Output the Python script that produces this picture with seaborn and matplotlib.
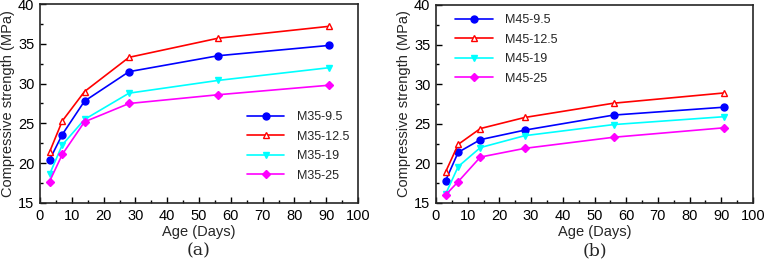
import matplotlib
matplotlib.use("Agg")
import matplotlib.pyplot as plt
import seaborn as sns
import pandas as pd
from matplotlib.ticker import MultipleLocator

ages = [3, 7, 14, 28, 56, 91]

labels_a = ["M35-9.5", "M35-12.5", "M35-19", "M35-25"]
m35_95 = [20.4, 23.6, 27.8, 31.5, 33.5, 34.8]
m35_125 = [21.4, 25.3, 29.0, 33.3, 35.7, 37.2]
m35_19 = [18.6, 22.3, 25.5, 28.8, 30.4, 32.0]
m35_25 = [17.7, 21.1, 25.2, 27.5, 28.6, 29.8]

labels_b = ["M45-9.5", "M45-12.5", "M45-19", "M45-25"]
m45_95 = [17.8, 21.4, 23.0, 24.2, 26.1, 27.1]
m45_125 = [18.9, 22.4, 24.4, 25.8, 27.6, 28.9]
m45_19 = [16.1, 19.6, 22.0, 23.5, 24.9, 25.9]
m45_25 = [16.0, 17.7, 20.8, 21.9, 23.3, 24.5]

sns.set_style("ticks")
plt.rcParams['font.family'] = ['Liberation Sans', 'DejaVu Sans']

colors = ["#0000ff", "#ff0000", "#00ffff", "#ff00ff"]
markers = ["o", "^", "v", "D"]
msizes = [5, 4.8, 5, 3.8]
fills = [True, False, True, True]

fig = plt.figure(figsize=(7.67, 2.70), dpi=100)
ax1 = fig.add_axes([40/767, 1-203/270, 318/767, 199/270])
ax2 = fig.add_axes([436/767, 1-203/270, 317/767, 198/270])

def draw(ax, labels, series, legend_kw, tag):
    for lab, vals, c, m, ms, f in zip(labels, series, colors, markers, msizes, fills):
        df = pd.DataFrame({"age": ages, "val": vals})
        sns.lineplot(data=df, x="age", y="val", ax=ax, color=c, marker=m,
                     markersize=ms, markeredgecolor=c,
                     markerfacecolor=c if f else "white",
                     markeredgewidth=1.0, linewidth=1.2, label=lab)
    ax.set_xlim(0, 100)
    ax.set_ylim(15, 40)
    ax.xaxis.set_major_locator(MultipleLocator(10))
    ax.xaxis.set_minor_locator(MultipleLocator(5))
    ax.yaxis.set_major_locator(MultipleLocator(5))
    ax.yaxis.set_minor_locator(MultipleLocator(2.5))
    ax.tick_params(which="both", direction="in", labelsize=10.5, width=1.0, colors="black")
    ax.tick_params(which="major", length=4, pad=4)
    ax.tick_params(which="minor", length=2.5)
    for s in ax.spines.values():
        s.set_linewidth(1.2)
        s.set_visible(True)
    ax.set_xlabel("Age (Days)", fontsize=10.5, labelpad=1.5)
    ax.set_ylabel("Compressive strength (MPa)", fontsize=10.5, labelpad=2)
    ax.legend(frameon=False, fontsize=9, handlelength=3.0, labelspacing=0.6,
              handletextpad=1.0, **legend_kw)
    ax.text(0.5, -0.24, tag, transform=ax.transAxes, ha="center", va="center",
            fontsize=12.5, family=["DejaVu Serif"])

draw(ax1, labels_a, [m35_95, m35_125, m35_19, m35_25],
     dict(loc="center left", bbox_to_anchor=(0.615, 0.285)), "(a)")
draw(ax2, labels_b, [m45_95, m45_125, m45_19, m45_25],
     dict(loc="upper left", bbox_to_anchor=(0.025, 1.01)), "(b)")

fig.savefig("out.png", dpi=100)
